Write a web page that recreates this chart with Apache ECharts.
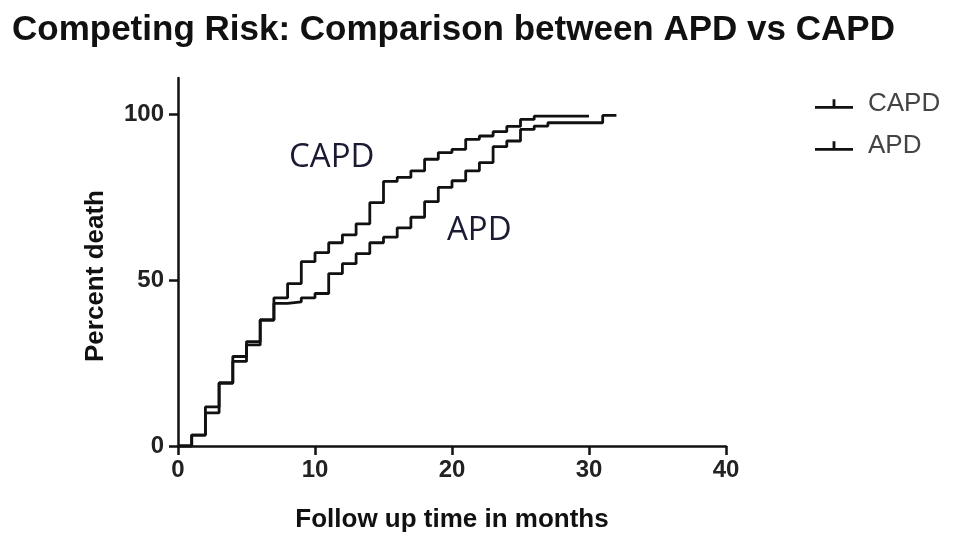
<!DOCTYPE html>
<html>
<head>
<meta charset="utf-8">
<script src="https://cdn.jsdelivr.net/npm/echarts@6/dist/echarts.min.js"></script>
<style>
  html, body { margin: 0; padding: 0; background: #fff; }
  #chart { width: 958px; height: 544px; }
</style>
</head>
<body>
<div id="chart"></div>
<script>
// Cumulative percent death, step changes: [month, percent]
var capdSteps = [
  [0, 0], [1, 3.3], [2, 11.8], [3, 19], [4, 27], [5, 31.5], [6, 38], [7, 44.7],
  [8, 49], [9, 55.6], [10, 58.3], [11, 61.3], [12, 63.7], [13, 67], [14, 73.4],
  [15, 79.8], [16, 81], [17, 83], [18, 86.5], [19, 88.5], [20, 89.5], [21, 92.5],
  [22, 93.5], [23, 94.8], [24, 96.4], [25, 98.5], [26, 99.5], [30, 99.5]
];
var apdSteps = [
  [0, 0], [1, 3.3], [2, 10], [3, 19], [4, 25.5], [5, 30.5], [6, 38], [7, 43],
  [8, 43.5], [9, 44.7], [10, 46], [11, 52], [12, 55], [13, 58], [14, 61.3],
  [15, 63], [16, 65.8], [17, 69], [18, 73.7], [19, 78], [20, 80], [21, 83],
  [22, 85.5], [23, 90.3], [24, 92], [25, 95.5], [26, 96.5], [27, 97.5],
  [31, 99.7], [32, 99.7]
];
var seriesNames = ['CAPD', 'APD'];
var xTicks = [0, 10, 20, 30, 40];
var yTicks = [0, 50, 100];

// legend icon: a line with a small censor tick on top
var censorIcon = 'path://M0,9 L40,9 L40,12 L0,12 Z M18.5,2 L21.5,2 L21.5,9 L18.5,9 Z';

var chart = echarts.init(document.getElementById('chart'), null, {renderer: 'canvas'});

var option = {
  animation: false,
  title: {
    text: 'Competing Risk: Comparison between APD vs CAPD',
    left: 7,
    top: 8,
    textStyle: {
      fontFamily: 'Liberation Sans, Arial, sans-serif',
      fontWeight: 'bold',
      fontSize: 35,
      color: '#111'
    }
  },
  legend: {
    data: seriesNames,
    orient: 'vertical',
    left: 810,
    top: 86,
    itemWidth: 38,
    itemHeight: 13,
    itemGap: 16,
    icon: censorIcon,
    textStyle: {
      fontFamily: 'Liberation Sans, Arial, sans-serif',
      fontSize: 26,
      color: '#444',
      padding: [0, 0, 0, 10]
    }
  },
  grid: {
    left: 178,
    right: 232,
    top: 78,
    bottom: 98
  },
  xAxis: {
    type: 'value',
    min: 0,
    max: 40,
    interval: 10,
    name: 'Follow up time in months',
    nameLocation: 'middle',
    nameGap: 61,
    nameTextStyle: {
      fontFamily: 'Liberation Sans, Arial, sans-serif',
      fontWeight: 'bold',
      fontSize: 26,
      color: '#111'
    },
    splitLine: {show: false},
    axisLine: {lineStyle: {color: '#111', width: 2.5}},
    axisTick: {show: true, length: 9, lineStyle: {color: '#111', width: 2.5}, customValues: xTicks},
    axisLabel: {
      customValues: xTicks,
      margin: 12,
      fontFamily: 'Liberation Sans, Arial, sans-serif',
      fontWeight: 'bold',
      fontSize: 24,
      color: '#222'
    }
  },
  yAxis: {
    type: 'value',
    min: 0,
    max: 111,
    splitLine: {show: false},
    axisLine: {show: true, lineStyle: {color: '#111', width: 2.5}},
    axisTick: {show: true, length: 9, lineStyle: {color: '#111', width: 2.5}, customValues: yTicks},
    axisLabel: {
      customValues: yTicks,
      margin: 14,
      fontFamily: 'Liberation Sans, Arial, sans-serif',
      fontWeight: 'bold',
      fontSize: 24,
      color: '#222'
    }
  },
  series: [
    {
      name: seriesNames[0],
      type: 'line',
      step: 'end',
      symbol: 'none',
      data: capdSteps,
      color: '#111',
      lineStyle: {color: '#111', width: 2.8}
    },
    {
      name: seriesNames[1],
      type: 'line',
      step: 'end',
      symbol: 'none',
      data: apdSteps,
      color: '#111',
      lineStyle: {color: '#111', width: 2.8}
    }
  ],
  graphic: [
    {
      // y axis title, centred on the 0-100 span as in the original
      type: 'text',
      x: 96,
      y: 276,
      rotation: Math.PI / 2,
      style: {
        text: 'Percent death',
        align: 'center',
        verticalAlign: 'middle',
        fontFamily: 'Liberation Sans, Arial, sans-serif',
        fontWeight: 'bold',
        fontSize: 26,
        fill: '#111'
      }
    },
    {
      type: 'text',
      left: 289,
      top: 141,
      style: {
        text: 'CAPD',
        fontFamily: 'Open Sans, sans-serif',
        fontSize: 33,
        fill: '#1a1a33'
      }
    },
    {
      type: 'text',
      left: 447,
      top: 214,
      style: {
        text: 'APD',
        fontFamily: 'Open Sans, sans-serif',
        fontSize: 33,
        fill: '#1a1a33'
      }
    }
  ]
};

chart.setOption(option);
</script>
</body>
</html>
